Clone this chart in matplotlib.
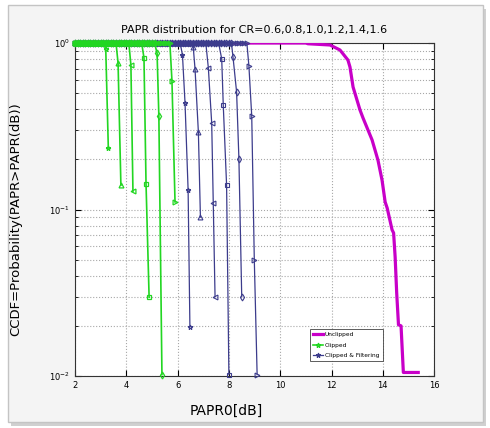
import numpy as np
import matplotlib
matplotlib.use('Agg')
import matplotlib.pyplot as plt
from matplotlib.patches import Rectangle

# PAPR axis sampling (dB) used for the flat part of every CCDF curve
papr_grid = np.round(np.arange(2.0, 16.0, 0.1), 2)

# Unclipped curve (after the flat part)
unclip_x = [11.08, 11.94, 12.33, 12.64, 12.72, 12.84, 13.11, 13.23, 13.58, 13.81,
            13.97, 14.09, 14.17, 14.36, 14.42, 14.48, 14.54, 14.61, 14.71, 14.80, 15.38]
unclip_y = [0.99, 0.973, 0.908, 0.790, 0.717, 0.544, 0.396, 0.354, 0.262, 0.198,
            0.150, 0.111, 0.102, 0.0755, 0.0723, 0.0518, 0.0316, 0.0203, 0.0200, 0.0105, 0.0105]

# Clipped curves, CR = 0.6 ... 1.6 (drop part)
clip_x = [[3.20, 3.30],
          [3.68, 3.79],
          [4.18, 4.26],
          [4.69, 4.77, 4.89],
          [5.20, 5.27, 5.39],
          [5.78, 5.90]]
clip_y = [[0.92, 0.234],
          [0.758, 0.140],
          [0.738, 0.129],
          [0.813, 0.142, 0.0297],
          [0.871, 0.364, 0.0102],
          [0.594, 0.111]]

# Clipped & filtering curves
filt_x = [[6.19, 6.29, 6.41, 6.48],
          [6.61, 6.68, 6.81, 6.89],
          [7.20, 7.33, 7.39, 7.46],
          [7.72, 7.78, 7.91, 8.00],
          [8.16, 8.30, 8.39, 8.50],
          [8.78, 8.89, 8.99, 9.10]]
filt_y = [[0.847, 0.436, 0.131, 0.0197],
          [0.946, 0.698, 0.292, 0.090],
          [0.705, 0.329, 0.110, 0.0299],
          [0.802, 0.424, 0.140, 0.0102],
          [0.824, 0.508, 0.202, 0.0299],
          [0.727, 0.364, 0.050, 0.0102]]

markers = ['*', '^', '<', 's', 'd', '>']
green = '#22d622'
blue = '#3c3c8c'
magenta = '#c800c8'


def full_curve(xs, ys):
    flat = papr_grid[papr_grid < xs[0] - 0.05]
    return np.concatenate([flat, xs]), np.concatenate([np.ones(len(flat)), ys])


fig = plt.figure(figsize=(4.9, 4.28), dpi=100)
fig.patch.set_facecolor('white')
# screenshot-like frame with shadow
fig.patches.append(Rectangle((0.022, 0.004), 0.97, 0.974, transform=fig.transFigure,
                             facecolor='#d0d0d0', edgecolor='none', zorder=-10))
fig.patches.append(Rectangle((0.016, 0.014), 0.97, 0.974, transform=fig.transFigure,
                             facecolor='#f4f4f4', edgecolor='#c4c4c4', lw=1, zorder=-9))

ax = fig.add_axes([0.153, 0.1215, 0.733, 0.778])
ax.set_zorder(2)
ax.set_facecolor('white')

ux, uy = full_curve(unclip_x, unclip_y)
ax.plot(ux, uy, color=magenta, lw=2.3, label='Unclipped', zorder=3)

for i in range(6):
    x, y = full_curve(clip_x[i], clip_y[i])
    ax.plot(x, y, color=green, lw=1.2, marker=markers[i], ms=3.5, mfc='none', mew=0.9,
            label='Clipped' if i == 0 else None, clip_on=False, zorder=5)

for i in range(6):
    x, y = full_curve(filt_x[i], filt_y[i])
    ax.plot(x, y, color=blue, lw=0.9, marker=markers[i], ms=3.5, mfc='none', mew=0.8,
            label='Clipped & Filtering' if i == 0 else None, clip_on=False, zorder=4)

ax.set_yscale('log')
ax.set_xlim(2, 16)
ax.set_ylim(0.01, 1)
ax.set_xticks(range(2, 17, 2))
ax.grid(True, which='both', color='#a8a8a8', linestyle=':', linewidth=0.8)
ax.tick_params(which='both', direction='in', top=True, right=True, labelsize=6)
ax.tick_params(which='major', length=4)
ax.tick_params(which='minor', length=2)
for s in ax.spines.values():
    s.set_color('#333333')
    s.set_linewidth(0.8)

ax.set_title('PAPR distribution for CR=0.6,0.8,1.0,1.2,1.4,1.6', fontsize=8, pad=7)
ax.set_xlabel('PAPR0[dB]', fontsize=10)
ax.xaxis.set_label_coords(0.42, -0.085)
ax.set_ylabel('CCDF=Probability(PAPR>PAPR(dB))', fontsize=9.5)
ax.yaxis.set_label_coords(-0.148, 0.47)

leg = ax.legend(loc='lower left', bbox_to_anchor=(0.645, 0.035),
                frameon=True, fancybox=False, handlelength=1.7, borderpad=0.6,
                labelspacing=0.9, handletextpad=0.3, fontsize=4.2)
leg.get_frame().set_edgecolor('#333333')
leg.get_frame().set_linewidth(0.7)

fig.savefig('out.png', dpi=100)
